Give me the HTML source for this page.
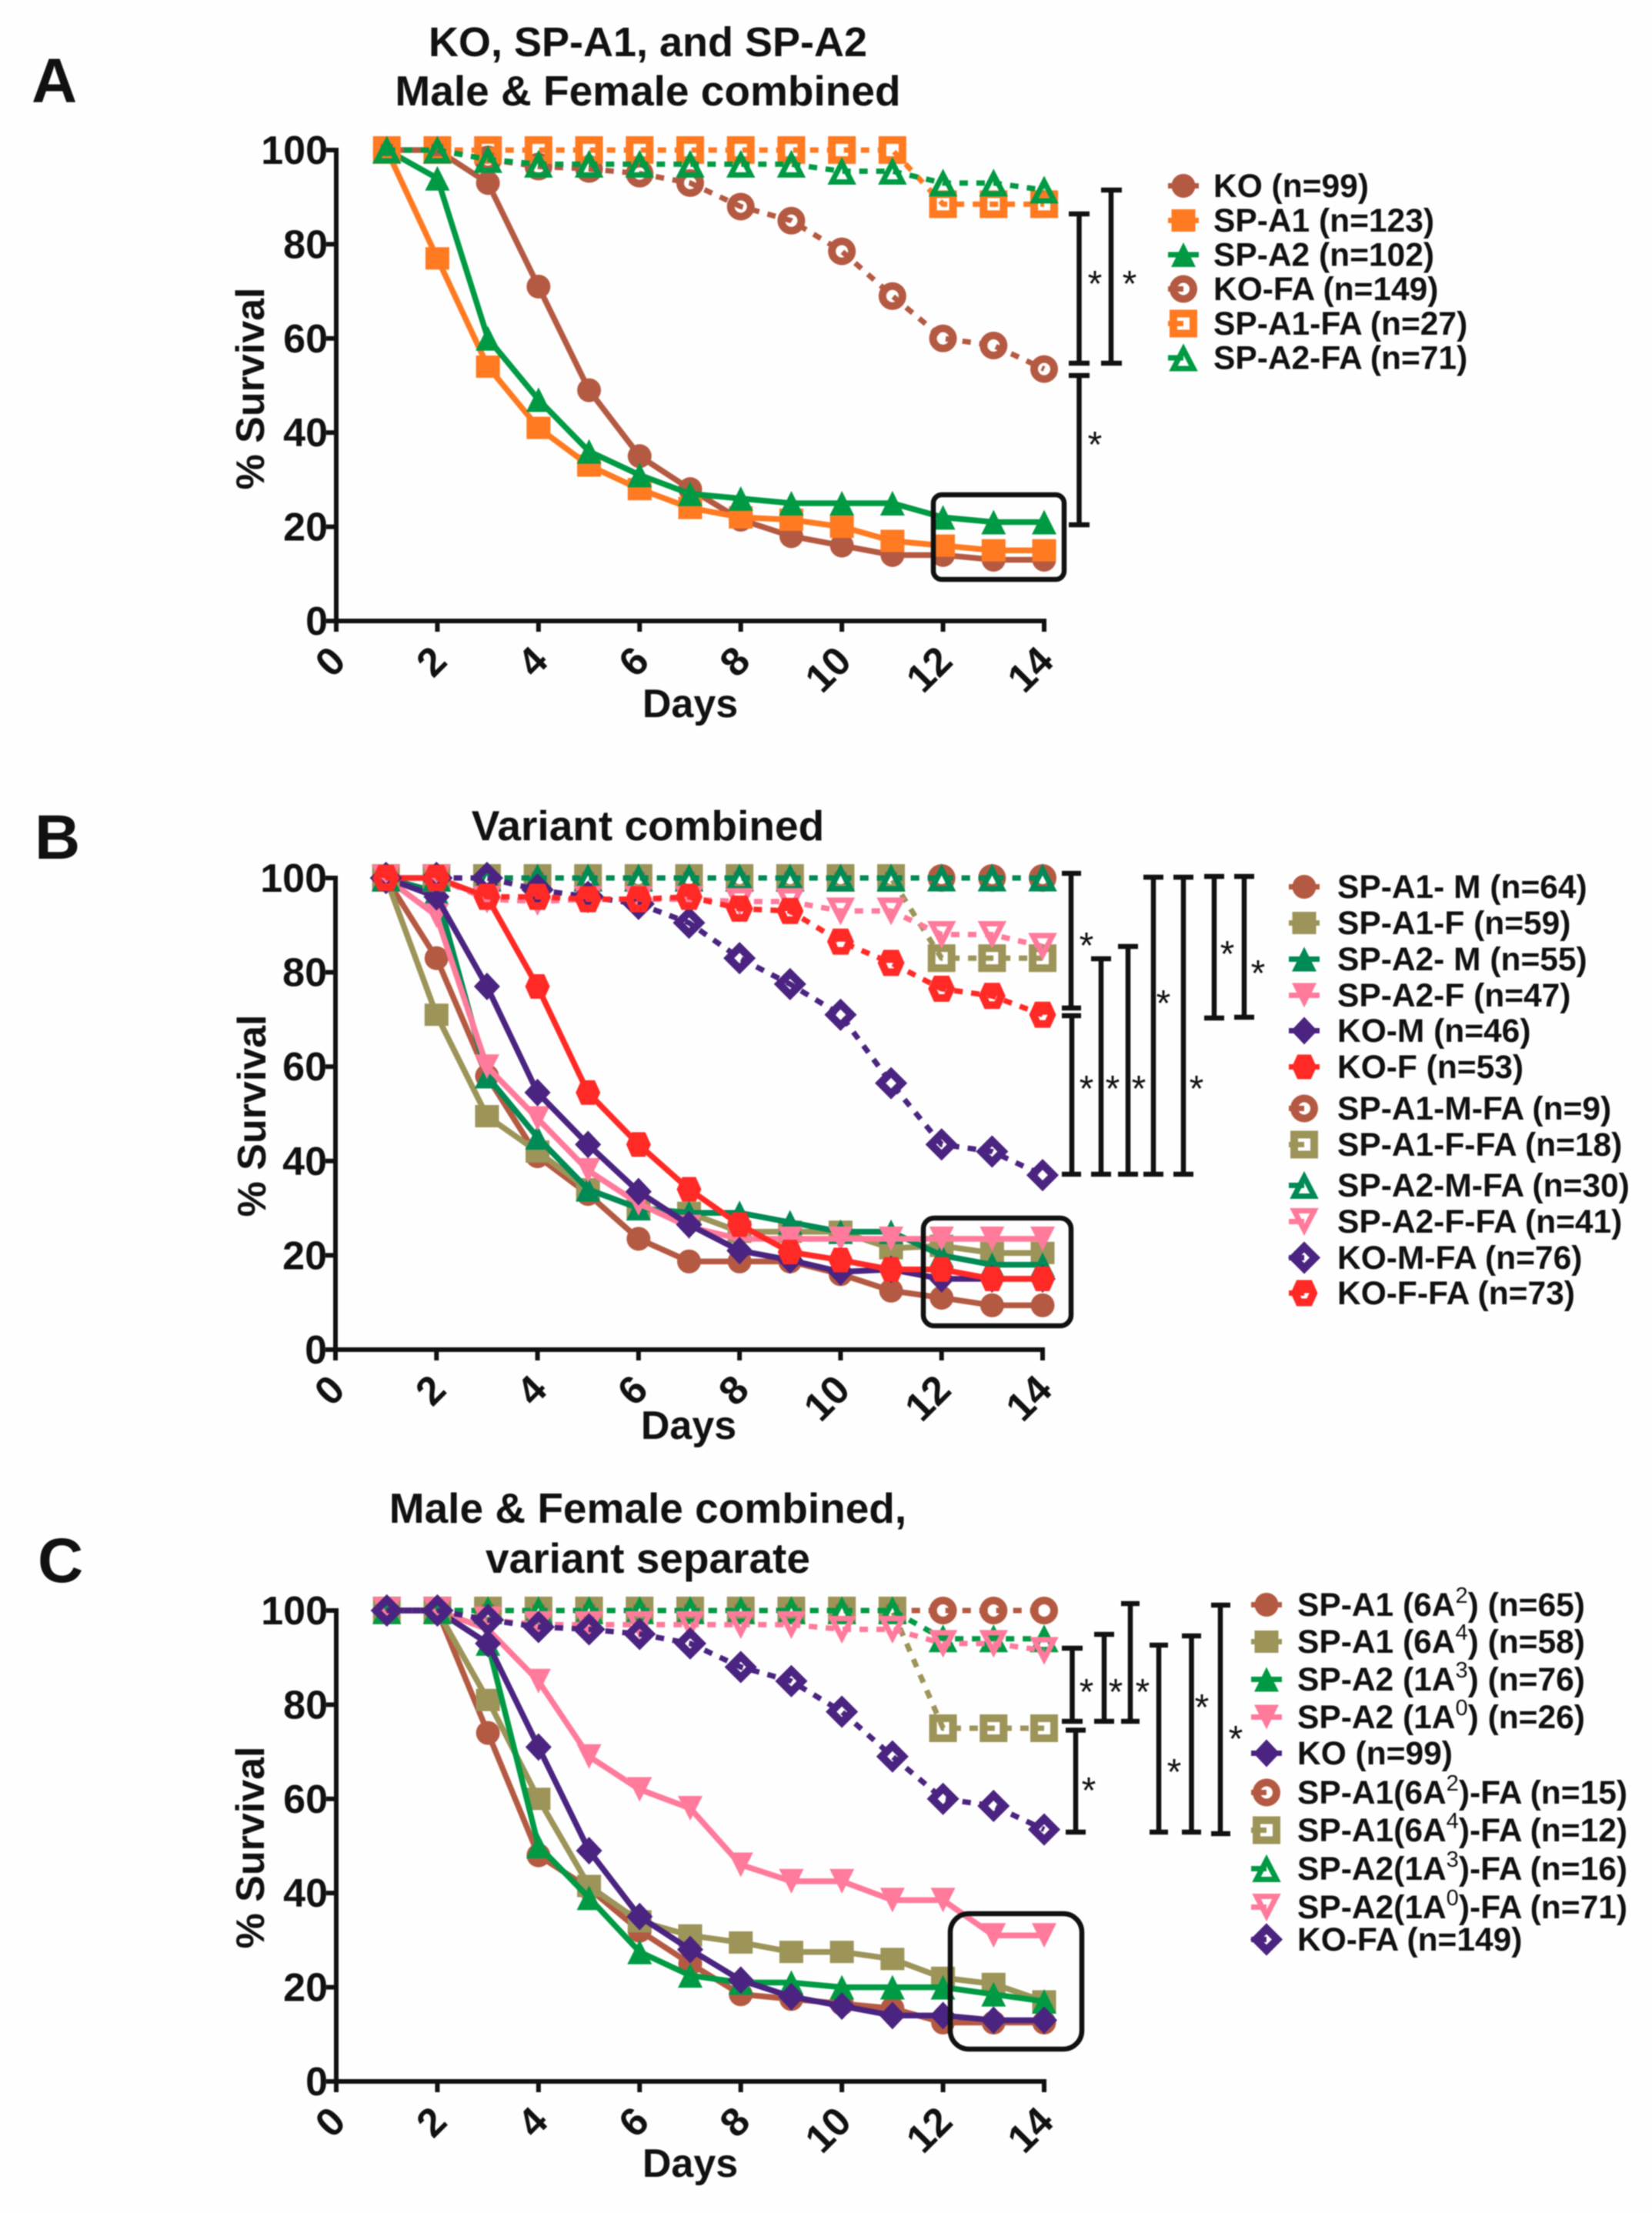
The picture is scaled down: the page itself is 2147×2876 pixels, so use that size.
<!DOCTYPE html>
<html>
<head>
<meta charset="utf-8">
<title>Survival curves</title>
<style>
html,body{margin:0;padding:0;background:#fefefe;}
svg{display:block;filter:blur(0.7px);}
text{font-family:"Liberation Sans",Arial,sans-serif;fill:#111;}
.t{font-weight:bold;font-size:55px;text-anchor:middle;}
.panel{font-weight:bold;font-size:82px;}
.ax{font-weight:bold;font-size:52px;}
.leg{font-weight:bold;font-size:42.5px;}
.sup{font-size:29px;font-weight:normal;}
.star{font-size:48px;text-anchor:middle;}
.br{stroke:#111;stroke-width:6.5;fill:none;}
.box{stroke:#111;stroke-width:6.5;fill:none;}
</style>
</head>
<body>
<svg id="figure" xmlns="http://www.w3.org/2000/svg" width="2147" height="2876" viewBox="0 0 2147 2876">
<rect width="2147" height="2876" fill="#fefefe"/>

<!-- PANEL A -->
<g id="panel-a">
<text class="panel" x="41" y="133">A</text>
<text class="t" style="font-size:54px" x="842" y="73">KO, SP-A1, and SP-A2</text>
<text class="t" x="842" y="137">Male &amp; Female combined</text>
<text class="ax" text-anchor="middle" transform="translate(343,505) rotate(-90)">% Survival</text>
<text class="ax" text-anchor="middle" x="897" y="932">Days</text>
<g id="plot-a"></g>
<rect class="box" x="1213" y="643" width="170" height="110" rx="11"/>
<path class="br" d="M1389 278h27M1402.5 278V472M1389 472h27"/>
<path class="br" d="M1431 247h27M1444 247V472M1431 472h27"/>
<path class="br" d="M1389 488h27M1402.5 488V682M1389 682h27"/>
<text class="star" x="1423" y="385">*</text>
<text class="star" x="1468" y="385">*</text>
<text class="star" x="1423" y="594">*</text>
<g>
<g id="leg-a-0"><text class="leg" x="1577" y="256">KO (n=99)</text></g>
<g id="leg-a-1"><text class="leg" x="1577" y="301">SP-A1 (n=123)</text></g>
<g id="leg-a-2"><text class="leg" x="1577" y="345.5">SP-A2 (n=102)</text></g>
<g id="leg-a-3"><text class="leg" x="1577" y="390">KO-FA (n=149)</text></g>
<g id="leg-a-4"><text class="leg" x="1577" y="435">SP-A1-FA (n=27)</text></g>
<g id="leg-a-5"><text class="leg" x="1577" y="479.5">SP-A2-FA (n=71)</text></g>
</g>
</g>

<!-- PANEL B -->
<g id="panel-b">
<text class="panel" x="45" y="1116">B</text>
<text class="t" x="842" y="1092">Variant combined</text>
<text class="ax" text-anchor="middle" transform="translate(345,1450) rotate(-90)">% Survival</text>
<text class="ax" text-anchor="middle" x="895" y="1870">Days</text>
<g id="plot-b"></g>
<rect class="box" x="1200" y="1583" width="192" height="140" rx="14"/>
<path class="br" d="M1380 1135h25M1392 1135V1310M1380 1310h25"/>
<path class="br" d="M1380 1320h25M1393 1320V1526M1380 1526h25"/>
<path class="br" d="M1418 1246h26M1431 1246V1526M1418 1526h26"/>
<path class="br" d="M1453 1230h26M1466 1230V1526M1453 1526h26"/>
<path class="br" d="M1486 1140h26M1499 1140V1526M1486 1526h26"/>
<path class="br" d="M1525 1140h26M1538 1140V1526M1525 1526h26"/>
<path class="br" d="M1565 1139h26M1578 1139V1323M1565 1323h26"/>
<path class="br" d="M1604 1139h26M1617 1139V1322M1604 1322h26"/>
<text class="star" x="1412" y="1245">*</text>
<text class="star" x="1412" y="1431">*</text>
<text class="star" x="1446" y="1431">*</text>
<text class="star" x="1480" y="1431">*</text>
<text class="star" x="1512" y="1320">*</text>
<text class="star" x="1555" y="1431">*</text>
<text class="star" x="1595" y="1256">*</text>
<text class="star" x="1635" y="1281">*</text>
<g>
<g id="leg-b-0"><text class="leg" x="1738" y="1167">SP-A1- M (n=64)</text></g>
<g id="leg-b-1"><text class="leg" x="1738" y="1214">SP-A1-F (n=59)</text></g>
<g id="leg-b-2"><text class="leg" x="1738" y="1261">SP-A2- M (n=55)</text></g>
<g id="leg-b-3"><text class="leg" x="1738" y="1308">SP-A2-F (n=47)</text></g>
<g id="leg-b-4"><text class="leg" x="1738" y="1354">KO-M (n=46)</text></g>
<g id="leg-b-5"><text class="leg" x="1738" y="1401">KO-F (n=53)</text></g>
<g id="leg-b-6"><text class="leg" x="1738" y="1455">SP-A1-M-FA (n=9)</text></g>
<g id="leg-b-7"><text class="leg" x="1738" y="1502">SP-A1-F-FA (n=18)</text></g>
<g id="leg-b-8"><text class="leg" x="1738" y="1555">SP-A2-M-FA (n=30)</text></g>
<g id="leg-b-9"><text class="leg" x="1738" y="1602">SP-A2-F-FA (n=41)</text></g>
<g id="leg-b-10"><text class="leg" x="1738" y="1649">KO-M-FA (n=76)</text></g>
<g id="leg-b-11"><text class="leg" x="1738" y="1695">KO-F-FA (n=73)</text></g>
</g>
</g>

<!-- PANEL C -->
<g id="panel-c">
<text class="panel" x="49" y="2056">C</text>
<text class="t" x="842" y="1979">Male &amp; Female combined,</text>
<text class="t" x="842" y="2044">variant separate</text>
<text class="ax" text-anchor="middle" transform="translate(343,2401) rotate(-90)">% Survival</text>
<text class="ax" text-anchor="middle" x="897" y="2829">Days</text>
<g id="plot-c"></g>
<rect class="box" x="1235" y="2487" width="171" height="176" rx="24"/>
<path class="br" d="M1380 2142h27M1393.5 2142V2237M1380 2237h27"/>
<path class="br" d="M1422 2124h26M1435 2124V2237M1422 2237h26"/>
<path class="br" d="M1457 2084h24M1469 2084V2237M1457 2237h24"/>
<path class="br" d="M1385 2248.5h26M1398 2248.5V2381M1385 2381h26"/>
<path class="br" d="M1494 2138h24M1506 2138V2381M1494 2381h24"/>
<path class="br" d="M1536 2126h25M1548.5 2126V2381M1536 2381h25"/>
<path class="br" d="M1574 2086h25M1586 2086V2383M1574 2383h25"/>
<text class="star" x="1412" y="2215">*</text>
<text class="star" x="1450" y="2215">*</text>
<text class="star" x="1485" y="2215">*</text>
<text class="star" x="1415" y="2343">*</text>
<text class="star" x="1526" y="2319">*</text>
<text class="star" x="1562" y="2235">*</text>
<text class="star" x="1606" y="2276">*</text>
<g>
<g id="leg-c-0"><text class="leg" x="1686" y="2100">SP-A1 (6A<tspan class="sup" dy="-17">2</tspan><tspan dy="17">) (n=65)</tspan></text></g>
<g id="leg-c-1"><text class="leg" x="1686" y="2148">SP-A1 (6A<tspan class="sup" dy="-17">4</tspan><tspan dy="17">) (n=58)</tspan></text></g>
<g id="leg-c-2"><text class="leg" x="1686" y="2197">SP-A2 (1A<tspan class="sup" dy="-17">3</tspan><tspan dy="17">) (n=76)</tspan></text></g>
<g id="leg-c-3"><text class="leg" x="1686" y="2246">SP-A2 (1A<tspan class="sup" dy="-17">0</tspan><tspan dy="17">) (n=26)</tspan></text></g>
<g id="leg-c-4"><text class="leg" x="1686" y="2293">KO (n=99)</text></g>
<g id="leg-c-5"><text class="leg" x="1686" y="2344">SP-A1(6A<tspan class="sup" dy="-17">2</tspan><tspan dy="17">)-FA (n=15)</tspan></text></g>
<g id="leg-c-6"><text class="leg" x="1686" y="2393">SP-A1(6A<tspan class="sup" dy="-17">4</tspan><tspan dy="17">)-FA (n=12)</tspan></text></g>
<g id="leg-c-7"><text class="leg" x="1686" y="2443">SP-A2(1A<tspan class="sup" dy="-17">3</tspan><tspan dy="17">)-FA (n=16)</tspan></text></g>
<g id="leg-c-8"><text class="leg" x="1686" y="2493">SP-A2(1A<tspan class="sup" dy="-17">0</tspan><tspan dy="17">)-FA (n=71)</tspan></text></g>
<g id="leg-c-9"><text class="leg" x="1686" y="2535">KO-FA (n=149)</text></g>
</g>
</g>
</svg>

<script>
// Shared axes
const days = [1,2,3,4,5,6,7,8,9,10,11,12,13,14];
const xTickLabels = [0,2,4,6,8,10,12,14];
const yTickLabels = [0,20,40,60,80,100];

// Panel A
const aKO     = [100,100,93,71,49,35,28,21.5,18,16,14,14,13,13];
const aSPA1   = [100,77,54,41,33,28,24,22,21.5,20,17,16,15,15];
const aSPA2   = [100,94,60,47,36,31,27,26,25,25,25,22,21,21];
const aKOFA   = [100,100,98,96.5,96,95,93,88,85,78.5,69,60,58.5,53.5];
const aSPA1FA = [100,100,100,100,100,100,100,100,100,100,100,88.5,88.5,88.5];
const aSPA2FA = [100,100,98,97,97,97,97,97,97,95.5,95.5,93,93,91.5];

// Panel B
const bSPA1M   = [100,83,58,41,33,23.5,18.7,18.7,18.7,16,12.5,11,9.4,9.4];
const bSPA1F   = [100,71,49.5,42,34,30,29,25,25,25,21.5,22,20.5,20.5];
const bSPA2M   = [100,97,58,45,34,30,29,29,27,25,25,20,18,18];
const bSPA2F   = [100,92,60,49,38,31,26,23.5,23.5,23.5,23.5,23.5,23.5,23.5];
const bKOM     = [100,96,77,54.5,43.5,33.5,26.5,21,19,16.5,17,15,15,15];
const bKOF     = [100,100,96,77,54.5,43.5,34,26.5,20.7,19,17,17,15,15];
const bSPA1MFA = [100,100,100,100,100,100,100,100,100,100,100,100,100,100];
const bSPA1FFA = [100,100,100,100,100,100,100,100,100,100,100,83,83,83];
const bSPA2MFA = [100,100,100,100,100,100,100,100,100,100,100,100,100,100];
const bSPA2FFA = [100,100,95.5,95,95.5,95.5,95.5,95,95,93,93,88,88,85.5];
const bKOMFA   = [100,100,100,97.5,96,94.5,90.5,83,77.5,71,56.5,43.5,42,37];
const bKOFFA   = [100,100,96,96,95.5,95.5,96,93.5,93,86.5,82,76.5,75,71];

// Panel C
const cSPA16A2   = [100,100,74,48,41,32,25,18.5,17.5,16.5,15.5,12.5,12.5,12.5];
const cSPA16A4   = [100,100,81,60,41.5,34,31,29.5,27.5,27.5,26,22,20.7,17];
const cSPA21A3   = [100,100,93,50,39,27.5,22.5,21,21,20,20,20,18.5,17];
const cSPA21A0   = [100,100,96,85,69,62,58,46,42.5,42.5,38.5,38.5,31,31];
const cKO        = [100,100,93,71,49,35,28,21.5,18,16,14,14,13,13];
const cSPA16A2FA = [100,100,100,100,100,100,100,100,100,100,100,100,100,100];
const cSPA16A4FA = [100,100,100,100,100,100,100,100,100,100,100,75,75,75];
const cSPA21A3FA = [100,100,100,100,100,100,100,100,100,100,100,94,94,94];
const cSPA21A0FA = [100,100,98,97,97,97,97,97,97,96,96,93,93,91.5];
const cKOFA      = [100,100,98,96.5,96,95,93,88,85,78.5,69,60,58.5,53.5];

const BROWN='#b55a42', ORANGE='#ff7a21', GREEN='#009a44', OLIVE='#9c9458', TEAL='#008a55', PINK='#ff7a9b', PURPLE='#4a2480', RED='#ff2a26';
const SVGNS='http://www.w3.org/2000/svg';

function node(parent, tag, attrs){
  const el=document.createElementNS(SVGNS,tag);
  for(const k in attrs){ el.setAttribute(k,attrs[k]); }
  parent.appendChild(el);
  return el;
}

function poly(pts){ return pts.map(function(p){return p.join(',');}).join(' '); }

function marker(parent, kind, cx, cy, color, open, name){
  const g=node(parent,'g',{});
  
  
  const triangle = kind==='up' || kind==='down';
  const paint = open ? {fill:'none',stroke:color,'stroke-width':triangle?7:10,'stroke-linejoin':'miter'} : {fill:color};
  if(kind==='circle'){
    node(g,'circle',Object.assign({cx:cx,cy:cy,r:open?13:15.5},paint));
  } else if(kind==='square'){
    const w=open?26:31, h=open?26:29;
    node(g,'rect',Object.assign({x:cx-w/2,y:cy-h/2,width:w,height:h},paint));
  } else if(kind==='up'){
    const hw=open?13:16, hh=open?11:16;
    node(g,'polygon',Object.assign({points:poly([[cx,cy-hh],[cx+hw,cy+hh+(open?3:0)],[cx-hw,cy+hh+(open?3:0)]])},paint));
  } else if(kind==='down'){
    const hw=open?13:16, hh=open?11:16;
    node(g,'polygon',Object.assign({points:poly([[cx-hw,cy-hh-(open?3:0)],[cx+hw,cy-hh-(open?3:0)],[cx,cy+hh]])},paint));
  } else if(kind==='diamond'){
    const hw=open?14:17, hh=open?14:18;
    node(g,'polygon',Object.assign({points:poly([[cx,cy-hh],[cx+hw,cy],[cx,cy+hh],[cx-hw,cy]])},paint));
  } else if(kind==='hex'){
    const r=open?12:16;
    node(g,'polygon',Object.assign({points:poly([[cx-r*0.55,cy-r],[cx+r*0.55,cy-r],[cx+r,cy],[cx+r*0.55,cy+r],[cx-r*0.55,cy+r],[cx-r,cy]])},paint));
    if(open){
      node(g,'rect',{x:cx-r,y:cy-r,width:2*r,height:r,fill:color});
    }
  }
  return g;
}

function drawAxes(plot, xs, ys, id){
  const axisStyle={stroke:'#111','stroke-width':6,fill:'none'};
  const yAxis=node(plot,'line',Object.assign({x1:xs(0),x2:xs(0),y1:ys(100)-3,y2:ys(0)+14},axisStyle));
  
  
  const xAxis=node(plot,'line',Object.assign({x1:xs(0)-3,x2:xs(14)+3,y1:ys(0),y2:ys(0)},axisStyle));
  
  
  yTickLabels.forEach(function(v){
    const t=node(plot,'line',Object.assign({x1:xs(0)-13,x2:xs(0),y1:ys(v),y2:ys(v)},axisStyle));
    
    
    const l=node(plot,'text',{x:xs(0)-11,y:ys(v)+18,'text-anchor':'end','font-size':52,'font-weight':'bold'});
    l.textContent=v;
    
    
  });
  xTickLabels.forEach(function(v){
    const t=node(plot,'line',Object.assign({x1:xs(v),x2:xs(v),y1:ys(0),y2:ys(0)+14},axisStyle));
    
    
    const l=node(plot,'text',{'text-anchor':'end','font-size':52,'font-weight':'bold',transform:'translate('+(xs(v)+15)+','+(ys(0)+55)+') rotate(-45)'});
    l.textContent=v;
    
    
  });
}

function drawPanel(id, frame, series, legendOffset){
  const plot=document.getElementById('plot-'+id);
  const xs=function(d){return frame.x0+(frame.x14-frame.x0)*d/14;};
  const ys=function(v){return frame.y0+(frame.y100-frame.y0)*v/100;};
  drawAxes(plot,xs,ys,id);
  series.forEach(function(s,si){
    const g=node(plot,'g',{});
    
    
    const pts=days.map(function(d,i){return [xs(d),ys(s.values[i])];});
    const attrs={points:poly(pts),fill:'none',stroke:s.color,'stroke-width':s.open?7:7.5,'stroke-linejoin':'round'};
    if(s.open){ attrs['stroke-dasharray']='11 11'; }
    const line=node(g,'polyline',attrs);
    
    
    pts.forEach(function(p,i){
      marker(g,s.kind,p[0],p[1],s.color,s.open,'point-'+id+'-'+s.name+'-day-'+days[i]);
    });
    const entry=document.getElementById('leg-'+id+'-'+si);
    const label=entry.querySelector('text');
    const lx=parseFloat(label.getAttribute('x'))-legendOffset;
    const ly=parseFloat(label.getAttribute('y'))-14.5;
    const stub=node(entry,'line',{x1:lx-20,x2:s.open?lx:lx+20,y1:ly,y2:ly,stroke:s.color,'stroke-width':7});
    
    
    marker(entry,s.kind,lx,ly,s.color,s.open,'legend-marker-'+id+'-'+s.name);
  });
}

drawPanel('a',{x0:437,x14:1357,y0:807,y100:195},[
  {name:'ko',values:aKO,color:BROWN,kind:'circle',open:false},
  {name:'sp-a1',values:aSPA1,color:ORANGE,kind:'square',open:false},
  {name:'sp-a2',values:aSPA2,color:GREEN,kind:'up',open:false},
  {name:'ko-fa',values:aKOFA,color:BROWN,kind:'circle',open:true},
  {name:'sp-a1-fa',values:aSPA1FA,color:ORANGE,kind:'square',open:true},
  {name:'sp-a2-fa',values:aSPA2FA,color:GREEN,kind:'up',open:true}
],39);

drawPanel('b',{x0:436,x14:1355,y0:1754,y100:1141},[
  {name:'sp-a1-m',values:bSPA1M,color:BROWN,kind:'circle',open:false},
  {name:'sp-a1-f',values:bSPA1F,color:OLIVE,kind:'square',open:false},
  {name:'sp-a2-m',values:bSPA2M,color:TEAL,kind:'up',open:false},
  {name:'sp-a2-f',values:bSPA2F,color:PINK,kind:'down',open:false},
  {name:'ko-m',values:bKOM,color:PURPLE,kind:'diamond',open:false},
  {name:'ko-f',values:bKOF,color:RED,kind:'hex',open:false},
  {name:'sp-a1-m-fa',values:bSPA1MFA,color:BROWN,kind:'circle',open:true},
  {name:'sp-a1-f-fa',values:bSPA1FFA,color:OLIVE,kind:'square',open:true},
  {name:'sp-a2-m-fa',values:bSPA2MFA,color:TEAL,kind:'up',open:true},
  {name:'sp-a2-f-fa',values:bSPA2FFA,color:PINK,kind:'down',open:true},
  {name:'ko-m-fa',values:bKOMFA,color:PURPLE,kind:'diamond',open:true},
  {name:'ko-f-fa',values:bKOFFA,color:RED,kind:'hex',open:true}
],43);

drawPanel('c',{x0:437,x14:1357,y0:2705,y100:2093},[
  {name:'sp-a1-6a2',values:cSPA16A2,color:BROWN,kind:'circle',open:false},
  {name:'sp-a1-6a4',values:cSPA16A4,color:OLIVE,kind:'square',open:false},
  {name:'sp-a2-1a3',values:cSPA21A3,color:GREEN,kind:'up',open:false},
  {name:'sp-a2-1a0',values:cSPA21A0,color:PINK,kind:'down',open:false},
  {name:'ko',values:cKO,color:PURPLE,kind:'diamond',open:false},
  {name:'sp-a1-6a2-fa',values:cSPA16A2FA,color:BROWN,kind:'circle',open:true},
  {name:'sp-a1-6a4-fa',values:cSPA16A4FA,color:OLIVE,kind:'square',open:true},
  {name:'sp-a2-1a3-fa',values:cSPA21A3FA,color:GREEN,kind:'up',open:true},
  {name:'sp-a2-1a0-fa',values:cSPA21A0FA,color:PINK,kind:'down',open:true},
  {name:'ko-fa',values:cKOFA,color:PURPLE,kind:'diamond',open:true}
],40);
</script>
</body>
</html>
